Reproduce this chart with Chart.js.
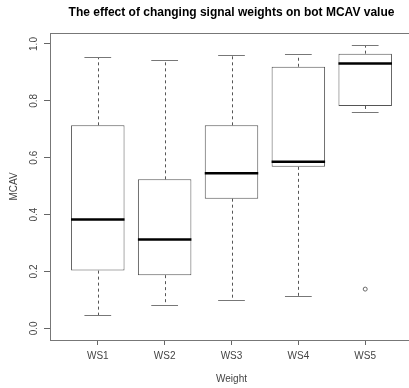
<!DOCTYPE html>
<html>
<head>
<meta charset="utf-8">
<script src="https://cdn.jsdelivr.net/npm/chart.js@4"></script>
<style>
  html, body { margin: 0; padding: 0; background: #fff; overflow: hidden; }
  canvas { display: block; }
</style>
</head>
<body>
<canvas id="boxes" width="413" height="388"></canvas>
<script>
// data
var categories = ['WS1', 'WS2', 'WS3', 'WS4', 'WS5']
var lowerWhisker = [0.048, 0.083, 0.099, 0.114, 0.760]
var q1 = [0.203, 0.187, 0.456, 0.568, 0.782]
var median = [0.383, 0.312, 0.545, 0.586, 0.931]
var q3 = [0.714, 0.524, 0.714, 0.920, 0.966]
var upperWhisker = [0.956, 0.944, 0.961, 0.966, 0.996]
var outliers = [{ group: 5, value: 0.138 }]
var yTicks = [0, 0.2, 0.4, 0.6, 0.8, 1.0]
var yTickLabels = ['0.0', '0.2', '0.4', '0.6', '0.8', '1.0']

var FONT = '"Liberation Sans", Arial, sans-serif'

var boxData = categories.map(function (c, i) {
  return { x: i + 1, y: [q1[i], q3[i]] }
})
var outlierData = outliers.map(function (o) {
  return { x: o.group, y: o.value }
})

// whiskers, caps, medians + frame and y labels
var boxExtras = {
  id: 'boxExtras',
  afterDatasetsDraw: function (chart) {
    var c = chart.ctx
    var x = chart.scales.x
    var y = chart.scales.y
    c.save()
    for (var i = 0; i < categories.length; i++) {
      var cx = Math.round(x.getPixelForValue(i + 1)) + 0.5
      var capL = x.getPixelForValue(i + 1 - 0.2)
      var capR = x.getPixelForValue(i + 1 + 0.2)
      var boxL = x.getPixelForValue(i + 1 - 0.4)
      var boxR = x.getPixelForValue(i + 1 + 0.4)
      var yUp = Math.round(y.getPixelForValue(upperWhisker[i])) + 0.5
      var yLo = Math.round(y.getPixelForValue(lowerWhisker[i])) + 0.5

      c.strokeStyle = '#555'
      c.lineWidth = 1
      c.setLineDash([3, 3])
      c.beginPath()
      c.moveTo(cx, y.getPixelForValue(q3[i]))
      c.lineTo(cx, yUp)
      c.moveTo(cx, y.getPixelForValue(q1[i]))
      c.lineTo(cx, yLo)
      c.stroke()

      c.setLineDash([])
      c.strokeStyle = '#777'
      c.beginPath()
      c.moveTo(capL, yUp)
      c.lineTo(capR, yUp)
      c.moveTo(capL, yLo)
      c.lineTo(capR, yLo)
      c.stroke()

      c.strokeStyle = '#000'
      c.lineWidth = 2.5
      var ym = y.getPixelForValue(median[i])
      c.beginPath()
      c.moveTo(boxL, ym)
      c.lineTo(boxR, ym)
      c.stroke()
    }
    c.restore()
  },
  afterDraw: function (chart) {
    var c = chart.ctx
    var a = chart.chartArea
    var y = chart.scales.y
    c.save()
    c.strokeStyle = '#777'
    c.lineWidth = 1
    c.strokeRect(Math.round(a.left) - 0.5, Math.round(a.top) + 0.5,
      Math.round(a.right - a.left), Math.round(a.bottom - a.top))
    c.fillStyle = '#444'
    c.font = '10px ' + FONT
    c.textAlign = 'center'
    c.textBaseline = 'middle'
    y.ticks.forEach(function (t, k) {
      c.save()
      c.translate(34, y.getPixelForValue(t.value))
      c.rotate(-Math.PI / 2)
      c.fillText(yTickLabels[k], 0, 0)
      c.restore()
    })
    c.restore()
  }
}

new Chart(document.getElementById('boxes'), {
  type: 'bar',
  data: {
    datasets: [{
      data: boxData,
      backgroundColor: '#fff',
      borderColor: '#555',
      borderWidth: 1,
      borderSkipped: false,
      barPercentage: 0.8,
      categoryPercentage: 1.0
    }, {
      type: 'scatter',
      data: outlierData,
      pointStyle: 'circle',
      pointRadius: 2,
      backgroundColor: '#fff',
      borderColor: '#666',
      borderWidth: 1
    }]
  },
  options: {
    responsive: false,
    animation: false,
    layout: { autoPadding: false, padding: { left: 0, right: 1, top: 0, bottom: 0 } },
    plugins: {
      legend: { display: false },
      tooltip: { enabled: false },
      title: {
        display: true,
        text: 'The effect of changing signal weights on bot MCAV value',
        fullSize: false,
        color: '#000',
        font: { family: FONT, size: 12, weight: 'bold' },
        padding: { top: 5, bottom: 13.5 }
      }
    },
    scales: {
      x: {
        type: 'linear',
        offset: false,
        min: 0.3,
        max: 5.7,
        afterBuildTicks: function (s) {
          s.ticks = categories.map(function (c, i) { return { value: i + 1 } })
        },
        afterFit: function (s) { s.height = 48 },
        grid: { offset: false, drawOnChartArea: false, drawTicks: true, tickLength: 5, color: '#666' },
        border: { display: false },
        ticks: {
          padding: 5,
          maxRotation: 0,
          color: '#444',
          font: { family: FONT, size: 10 },
          callback: function (v) { return categories[v - 1] }
        },
        title: {
          display: true,
          text: 'Weight',
          color: '#444',
          font: { family: FONT, size: 10 },
          padding: { top: 0, bottom: 3 }
        }
      },
      y: {
        min: -0.041,
        max: 1.039,
        afterBuildTicks: function (s) {
          s.ticks = yTicks.map(function (v) { return { value: v } })
        },
        afterFit: function (s) { s.width = 51 },
        grid: { drawOnChartArea: false, drawTicks: true, tickLength: 7, color: '#666' },
        border: { display: false },
        ticks: { display: false },
        title: {
          display: true,
          text: 'MCAV',
          color: '#444',
          font: { family: FONT, size: 10 },
          padding: { top: 8, bottom: 0 }
        }
      }
    }
  },
  plugins: [boxExtras]
})
</script>
</body>
</html>
